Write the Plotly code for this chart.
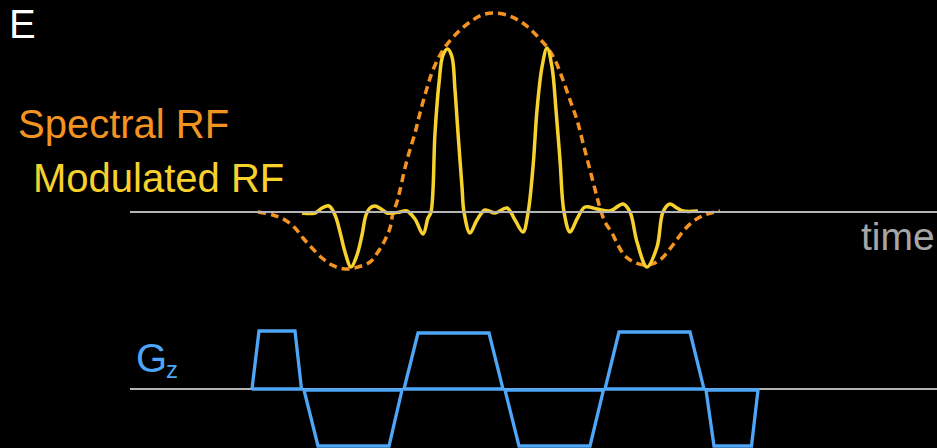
import plotly.graph_objects as go

# ---- data (time axis in arbitrary units, amplitudes relative to each baseline) ----
baseline_time = [130, 937]
baseline_level = [0, 0]

# Spectral RF envelope (orange dashed)
spectral_t = [258, 273, 285, 295, 303, 312, 322, 332, 345, 358, 370, 378, 385, 390, 393, 397,
              400, 407, 415, 420, 427, 433, 443, 458, 470, 482, 494, 507, 518, 528, 538, 547,
              555, 563, 570, 577, 583, 590, 597, 600, 605, 612, 618, 625, 636, 648, 660, 669,
              678, 685, 695, 707, 720]
spectral_amp = [0, -3, -8, -16, -26, -36, -46, -53, -57, -55, -50, -40, -28, -16, -1, 10,
                22, 52, 79, 99, 124, 142, 162, 180, 190, 197, 199, 197, 192, 185, 175, 165,
                152, 132, 112, 92, 69, 42, 15, 4, -10, -21, -33, -44, -51, -53, -48, -38,
                -26, -17, -8, -2, 1]

# Modulated RF (yellow)
modulated_t = [302, 315, 322, 329, 335, 340, 345, 351, 357, 362, 366, 370, 375, 381, 387, 393,
               400, 407, 415, 423, 428, 431, 435, 439, 443, 447.7, 452, 455, 458, 462, 464,
               470, 477, 485, 495, 507, 515, 523, 528, 533, 537, 542, 547, 552, 556, 560,
               564, 570, 577, 585, 597, 610, 623, 630, 637, 647, 657, 663, 670, 677, 683, 698]
modulated_amp = [-1, -1, 4, 6, -3, -20, -40, -55, -43, -23, -3, 4, 6, 3, -1, -1,
                 0, 1, -7, -22, -6, 0, 79, 129, 157, 163, 155, 122, 79, 25, 0,
                 -21, -8, 2, -1, 4, -8, -20, -1, 45, 102, 145, 164, 145, 102, 52,
                 0, -20, -7, 5, 3, 1, 8, 0, -30, -55, -35, 0, 8, 4, 1, 1]

# Gz gradient lobes (closed trapezoids)
gz_lobes_t = [
    [252, 259, 295, 301.5, 252],
    [304, 318, 389, 402, 304],
    [404, 418, 489, 503, 404],
    [505, 519, 590, 603.5, 505],
    [605, 619, 690, 704, 605],
    [706, 714, 751.5, 758, 706],
]
gz_lobes_amp = [
    [0, 58, 58, 0, 0],
    [-1, -57, -57, -1, -1],
    [0, 56, 56, 0, 0],
    [-1, -57, -57, -1, -1],
    [0, 57, 57, 0, 0],
    [-1, -57, -57, -1, -1],
]

ORANGE = "#F39322"
YELLOW = "#F8D22C"
BLUE = "#4DA6F7"
GRAY = "#B4B4B4"

W, H = 937, 448

gz_t, gz_amp = [], []
for tt, aa in zip(gz_lobes_t, gz_lobes_amp):
    gz_t += tt + [None]
    gz_amp += aa + [None]

fig = go.Figure()

# Lower baseline (under the gradient)
fig.add_trace(go.Scatter(x=baseline_time, y=baseline_level, mode="lines",
                         line=dict(color=GRAY, width=2.2), yaxis="y2", hoverinfo="skip"))
fig.add_trace(go.Scatter(x=gz_t, y=gz_amp, mode="lines",
                         line=dict(color=BLUE, width=3.3), yaxis="y2", hoverinfo="skip"))

# RF curves
fig.add_trace(go.Scatter(x=spectral_t, y=spectral_amp, mode="lines", line_shape="spline",
                         line=dict(color=ORANGE, width=3.5, dash="8px,5px"), hoverinfo="skip"))
fig.add_trace(go.Scatter(x=modulated_t, y=modulated_amp, mode="lines", line_shape="spline",
                         line=dict(color=YELLOW, width=3.5), hoverinfo="skip"))
# Upper baseline on top
fig.add_trace(go.Scatter(x=baseline_time, y=baseline_level, mode="lines",
                         line=dict(color=GRAY, width=2.2), hoverinfo="skip"))


def ann(text, x_px, y_px, size, color, xanchor="left", yanchor="middle"):
    fig.add_annotation(text=text, x=x_px / W, y=1 - y_px / H, xref="paper", yref="paper",
                       xanchor=xanchor, yanchor=yanchor, showarrow=False,
                       font=dict(family="Liberation Sans, Arial, sans-serif", size=size, color=color))


ann("E", 7, 0, 40, "white", yanchor="top")
ann("Spectral RF", 16, 124, 40, ORANGE)
ann("Modulated RF", 31, 178, 40, YELLOW)
ann("time", 937, 236, 39, "#A6A6A6", xanchor="right")
ann("G", 134, 358, 40, BLUE)
ann("z", 164, 369, 24, BLUE)

fig.update_layout(
    width=W, height=H,
    margin=dict(l=0, r=0, t=0, b=0),
    paper_bgcolor="black", plot_bgcolor="black",
    showlegend=False,
    xaxis=dict(range=[0, W], visible=False, fixedrange=True),
    yaxis=dict(range=[212 - H, 212], visible=False, domain=[0, 1]),
    yaxis2=dict(range=[389 - H, 389], visible=False, overlaying="y", domain=[0, 1]),
)

fig.write_html(
    "out.html",
    config={"displayModeBar": False},
    post_script="document.body.style.margin='0';document.body.style.background='black';"
                "document.documentElement.style.background='black';",
)
